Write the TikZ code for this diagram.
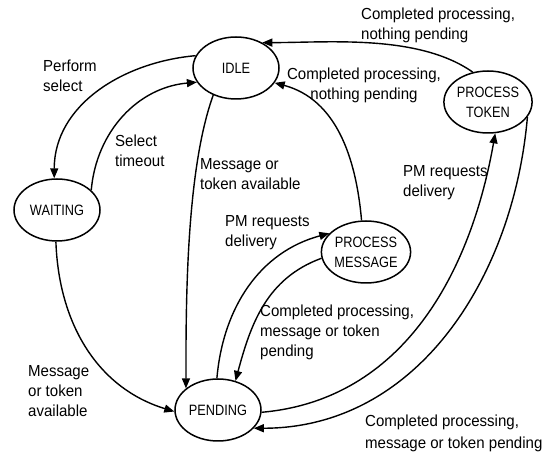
\documentclass[tikz,border=0pt]{standalone}
\usepackage{fontspec}
\setmainfont{Liberation Sans}
\newfontfamily\lblfont[FakeStretch=0.94]{Liberation Sans}
\newfontfamily\statefont[FakeStretch=0.85]{Liberation Sans}
\usetikzlibrary{arrows.meta,shapes.geometric}
\begin{document}
\begin{tikzpicture}[x=1pt,y=1pt,
  state/.style={ellipse,draw,line width=1.5pt,minimum width=86pt,minimum height=62pt,
    inner sep=0pt,align=center,font=\statefont\fontsize{15}{20}\selectfont},
  trans/.style={line width=1.4pt,-{Triangle[length=10pt,width=8pt]}},
  lbl/.style={anchor=base west,inner sep=0pt,align=left,font=\lblfont\fontsize{16}{20}\selectfont}]
\useasboundingbox (0,0) rectangle (547,453);

% states
\node[state] (idle) at (236,385) {IDLE};
\node[state] (wait) at (57,243) {WAITING};
\node[state] (pend) at (218,43) {PENDING};
\node[state] (pmsg) at (366,201) {PROCESS\\MESSAGE};
\node[state] (ptok) at (488,351) {PROCESS\\TOKEN};

% transitions
\draw[trans] (idle.163) to[out=185,in=90] (wait.95);
\draw[trans] (wait.30) to[out=85,in=185] (idle.200);
\draw[trans] (idle.230) to[out=250,in=90,looseness=0.7] (pend.146);
\draw[trans] (wait.268) to[out=272,in=163] (pend.182);
\draw[trans] (pend.92) to[out=85,in=195] (pmsg.153);
\draw[trans] (pmsg.188) to[out=200,in=75] (pend.59);
\draw[trans] (pmsg.98) to[out=95,in=345] (idle.339);
\draw[trans] (pend.357) to[out=5,in=260] (ptok.283);
\draw[trans] (ptok.339) to[out=265,in=0] (pend.333);
\draw[trans] (ptok.117) to[out=145,in=0,looseness=0.8] (idle.44);

% labels (anchored at the baseline of their last line)
\node[lbl] (l1) at (43,361) {Perform\\select};
\node[lbl] (l2) at (115,286) {Select\\timeout};
\node[lbl] (l3) at (200,263) {Message or\\token available};
\node[lbl,align=center,anchor=base] (l4) at (364,353) {Completed processing,\\nothing pending};
\node[lbl] (l5) at (361,413) {Completed processing,\\nothing pending};
\node[lbl] (l6) at (403,256) {PM requests\\delivery};
\node[lbl] (l7) at (225,206) {PM requests\\delivery};
\node[lbl] (l8) at (260,96) {Completed processing,\\message or token\\pending};
\node[lbl] (l9) at (28,36) {Message\\or token\\available};
\node[lbl,font=\lblfont\fontsize{16}{22}\selectfont] (l10) at (365,4) {Completed processing,\\message or token pending};
\end{tikzpicture}
\end{document}
